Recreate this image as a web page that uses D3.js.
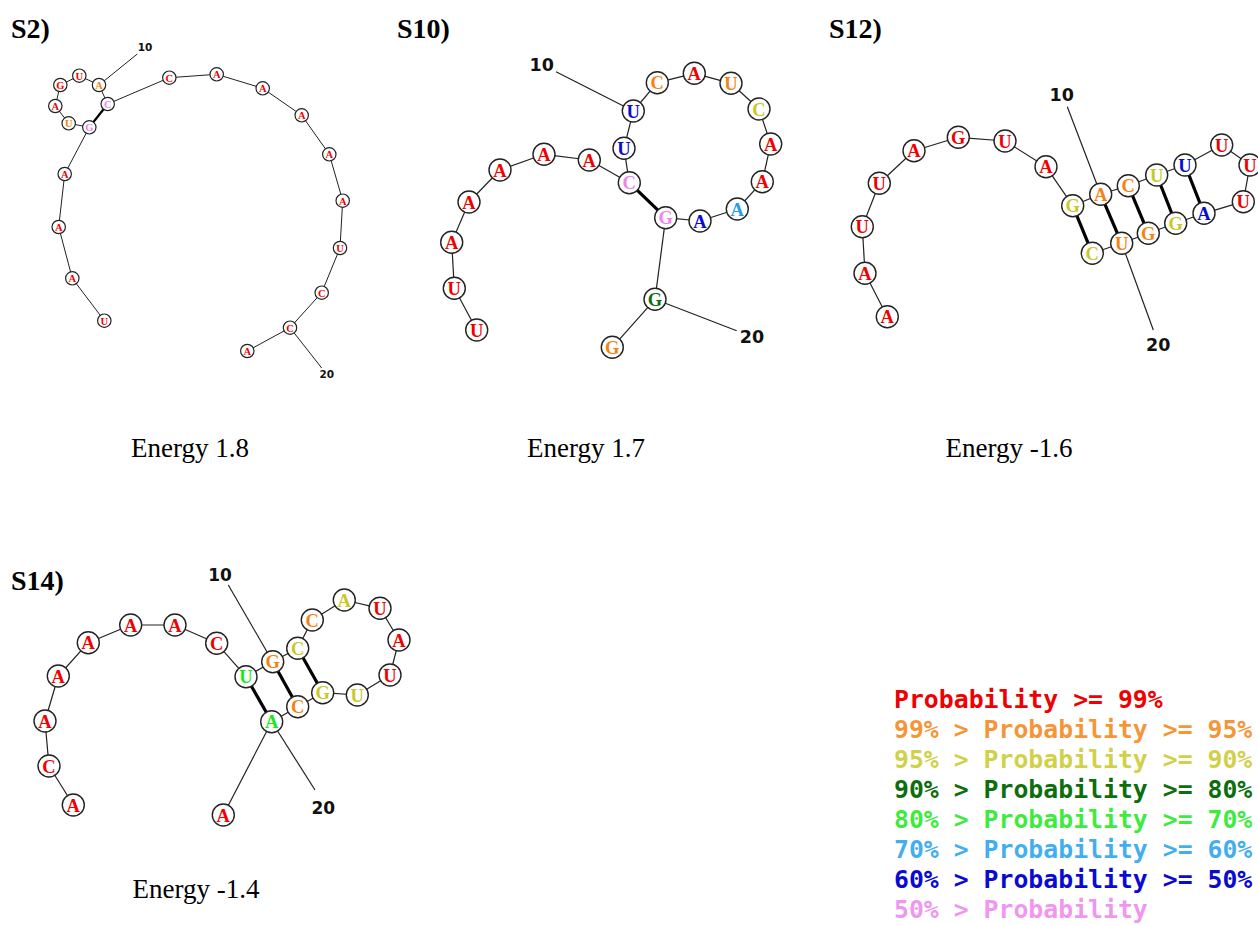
<!DOCTYPE html>
<html>
<head>
<meta charset="utf-8">
<script src="https://cdn.jsdelivr.net/npm/d3@7"></script>
<style>
body { margin: 0; background: #fff; }
svg { display: block; }
</style>
</head>
<body>
<svg id="fig"></svg>
<script>
/* probability bins: 0 = >=99%, 1 = 99-95, 2 = 95-90, 3 = 90-80, 4 = 80-70, 5 = 70-60, 6 = 60-50, 7 = <50 */
var PROB_COLORS = ["#f00000", "#f58210", "#c8c828", "#0c6e0c", "#18e818", "#1ea0ee", "#0a0ad2", "#ee82ee"];
var LEGEND_LABELS = ["Probability >= 99%", "99% > Probability >= 95%", "95% > Probability >= 90%",
    "90% > Probability >= 80%", "80% > Probability >= 70%", "70% > Probability >= 60%",
    "60% > Probability >= 50%", "50% > Probability"];

var PANEL_NAMES = ["S2)", "S10)", "S12)", "S14)"];
var ENERGIES = [1.8, 1.7, -1.6, -1.4];
var TICK_NUMBERS = [10, 20];

// S2
var S2_SEQ = "UAAAGUAGUACCAAAAAUCCA".split("");
var S2_PROB = [0,0,0,0,7,1,0,0,0,1,7,0,0,0,0,0,0,0,0,0,0];
var S2_X = [64.3,32.3,18.7,24.7,49.3,28.7,15.3,20.3,39.3,59,67.7,129.3,176.7,222.7,261.7,289.3,302.7,300,281.7,250,207.3];
var S2_Y = [260.7,218.3,167,114,67.3,63.3,46,25,15.7,25,44,17.7,14.3,28.3,55.3,94.3,140.7,188,232.7,267.7,291];
var S2_PAIRS = [[5,11]];
var S2_TICK_X = [105, 286.7], S2_TICK_Y = [-12.7, 314];
var S2_TICK_END_X = [97.3, 281.7], S2_TICK_END_Y = [-6, 308];

// S10
var S10_SEQ = "UUAAAAACUUCAUCAAAAGGG".split("");
var S10_PROB = [0,0,0,0,0,0,0,7,6,6,1,0,1,2,0,0,5,6,7,3,1];
var S10_X = [46.7,24.3,21.7,39,70,114,159.3,199.3,194,203.3,227.3,264.3,301,329,340.7,332.3,307.3,270,235.7,225,182.3];
var S10_Y = [270,228.3,182.3,142,110,94.3,100,122.7,88.3,51,22.7,13.3,23.3,49,84,121.7,149,161,157.7,239.3,287.3];
var S10_PAIRS = [[8,19]];
var S10_TICK_X = [111.7, 322], S10_TICK_Y = [5, 276.7];
var S10_TICK_END_X = [126, 306.7], S10_TICK_END_Y = [11.7, 270.7];

// S12
var S12_SEQ = "AAUUAGUAGACUUUUUAGGUC".split("");
var S12_PROB = [0,0,0,0,0,0,0,0,2,1,1,2,6,0,0,0,6,2,1,1,2];
var S12_X = [37.3,15,12.3,29.3,64,108.3,155,196,222.7,250.7,278.3,306.7,335,371.7,400,393.3,354,325.7,298.3,271.7,242.3];
var S12_Y = [236.7,193.3,146.7,103.3,70.7,57.3,61,86.7,125.7,114.3,105.7,95,85,65,85,121.7,133.3,143.3,153.3,163.3,173.3];
var S12_PAIRS = [[9,21],[10,20],[11,19],[12,18],[13,17]];
var S12_TICK_X = [211.7, 308.3], S12_TICK_Y = [15, 265];
var S12_TICK_END_X = [217.3, 303.3], S12_TICK_END_Y = [26.7, 250];

// S14
var S14_SEQ = "ACAAAAACUGCCAUAUUGCAA".split("");
var S14_PROB = [0,0,0,0,0,0,0,0,4,1,2,1,2,0,0,0,2,2,1,4,0];
var S14_X = [43.3,19,15,28.3,58.3,100.7,145,186.7,216,242.7,267.7,282.3,314.3,350,369,360,327.3,292.7,267.7,241.7,193.3];
var S14_Y = [215,176,131,86,52.7,35,35,53.3,86.7,71.7,58.3,30,10,18.3,50,85,105,102.7,116.7,131.7,225];
var S14_PAIRS = [[9,20],[10,19],[11,18]];
var S14_TICK_X = [190, 293.3], S14_TICK_Y = [-15, 218.3];
var S14_TICK_END_X = [198.3, 285], S14_TICK_END_Y = [-5, 200];

/* layout of the four panels on the page */
var W = 1258, H = 925;
var panels = [
    {seq: S2_SEQ, prob: S2_PROB, xs: S2_X, ys: S2_Y, pairs: S2_PAIRS,
     tx: S2_TICK_X, ty: S2_TICK_Y, tex: S2_TICK_END_X, tey: S2_TICK_END_Y,
     ox: 40, oy: 60, r: 6.7, font: 10.5, tickFont: 10.5, pairW: 2.2, lineW: 1,
     titleX: 11, titleY: 38, energyX: 190, energyY: 457},
    {seq: S10_SEQ, prob: S10_PROB, xs: S10_X, ys: S10_Y, pairs: S10_PAIRS,
     tx: S10_TICK_X, ty: S10_TICK_Y, tex: S10_TICK_END_X, tey: S10_TICK_END_Y,
     ox: 430, oy: 60, r: 11, font: 18.5, tickFont: 17.5, pairW: 3.2, lineW: 1.2,
     titleX: 397, titleY: 38, energyX: 586, energyY: 457},
    {seq: S12_SEQ, prob: S12_PROB, xs: S12_X, ys: S12_Y, pairs: S12_PAIRS,
     tx: S12_TICK_X, ty: S12_TICK_Y, tex: S12_TICK_END_X, tey: S12_TICK_END_Y,
     ox: 850, oy: 80, r: 11, font: 18.5, tickFont: 17.5, pairW: 3.2, lineW: 1.2,
     titleX: 829, titleY: 38, energyX: 1009, energyY: 457},
    {seq: S14_SEQ, prob: S14_PROB, xs: S14_X, ys: S14_Y, pairs: S14_PAIRS,
     tx: S14_TICK_X, ty: S14_TICK_Y, tex: S14_TICK_END_X, tey: S14_TICK_END_Y,
     ox: 30, oy: 590, r: 11, font: 18.5, tickFont: 17, pairW: 3.2, lineW: 1.2,
     titleX: 11, titleY: 590, energyX: 196, energyY: 898}
];

var color = d3.scaleOrdinal().domain(d3.range(PROB_COLORS.length)).range(PROB_COLORS);

var svg = d3.select("#fig").attr("width", W).attr("height", H);
svg.append("rect").attr("width", W).attr("height", H).attr("fill", "#fff");

function draw_panel(p, k) {
    var x = d3.scaleLinear().domain([0, 100]).range([p.ox, p.ox + 100]);
    var y = d3.scaleLinear().domain([0, 100]).range([p.oy, p.oy + 100]);
    var g = svg.append("g").attr("class", "panel");

    var nodes = p.seq.map(function(b, i) {
        return {base: b, prob: p.prob[i], x: x(p.xs[i]), y: y(p.ys[i])};
    });

    // tick lines for positions 10 and 20
    TICK_NUMBERS.forEach(function(n, i) {
        g.append("line")
            .attr("x1", nodes[n - 1].x).attr("y1", nodes[n - 1].y)
            .attr("x2", x(p.tex[i])).attr("y2", y(p.tey[i]))
            .attr("stroke", "#222").attr("stroke-width", p.lineW);
        g.append("text")
            .attr("x", x(p.tx[i])).attr("y", y(p.ty[i]))
            .attr("text-anchor", "middle").attr("dominant-baseline", "central")
            .attr("font-family", "DejaVu Sans").attr("font-weight", "bold")
            .attr("font-size", p.tickFont).attr("fill", "#111")
            .text(n);
    });

    // backbone
    g.selectAll(".bb").data(d3.pairs(nodes)).enter().append("line")
        .attr("class", "bb")
        .attr("x1", function(d) { return d[0].x; }).attr("y1", function(d) { return d[0].y; })
        .attr("x2", function(d) { return d[1].x; }).attr("y2", function(d) { return d[1].y; })
        .attr("stroke", "#222").attr("stroke-width", p.lineW);

    // base pairs
    g.selectAll(".bp").data(p.pairs).enter().append("line")
        .attr("class", "bp")
        .attr("x1", function(d) { return nodes[d[0] - 1].x; }).attr("y1", function(d) { return nodes[d[0] - 1].y; })
        .attr("x2", function(d) { return nodes[d[1] - 1].x; }).attr("y2", function(d) { return nodes[d[1] - 1].y; })
        .attr("stroke", "#000").attr("stroke-width", p.pairW);

    var nt = g.selectAll(".nt").data(nodes).enter().append("g")
        .attr("class", "nt")
        .attr("transform", function(d) { return "translate(" + d.x + "," + d.y + ")"; });
    nt.append("circle").attr("r", p.r)
        .attr("fill", "#fff").attr("stroke", "#222").attr("stroke-width", p.lineW + 0.2);
    nt.append("text")
        .attr("text-anchor", "middle").attr("dominant-baseline", "central")
        .attr("y", p.font * 0.04)
        .attr("font-family", "Liberation Serif").attr("font-weight", "bold")
        .attr("font-size", p.font)
        .attr("fill", function(d) { return color(d.prob); })
        .text(function(d) { return d.base; });

    // title and energy
    svg.append("text").attr("x", p.titleX).attr("y", p.titleY)
        .attr("font-family", "Liberation Serif").attr("font-weight", "bold")
        .attr("font-size", 28).attr("fill", "#000")
        .text(PANEL_NAMES[k]);
    svg.append("text").attr("x", p.energyX).attr("y", p.energyY)
        .attr("text-anchor", "middle")
        .attr("font-family", "Liberation Serif").attr("font-size", 27).attr("fill", "#000")
        .text("Energy " + ENERGIES[k]);
}

panels.forEach(draw_panel);

/* legend */
var ly = d3.scaleLinear().domain([0, LEGEND_LABELS.length - 1]).range([708, 918]);
svg.append("g").attr("class", "legend").selectAll("text").data(LEGEND_LABELS).enter().append("text")
    .attr("x", 894)
    .attr("y", function(d, i) { return ly(i); })
    .attr("font-family", "DejaVu Sans Mono").attr("font-weight", "bold")
    .attr("font-size", 24.8)
    .attr("fill", function(d, i) { return color(i); })
    .attr("fill-opacity", function(d, i) { return i === 0 || i === 3 || i === 6 ? 1 : 0.85; })
    .text(function(d) { return d; });
</script>
</body>
</html>
